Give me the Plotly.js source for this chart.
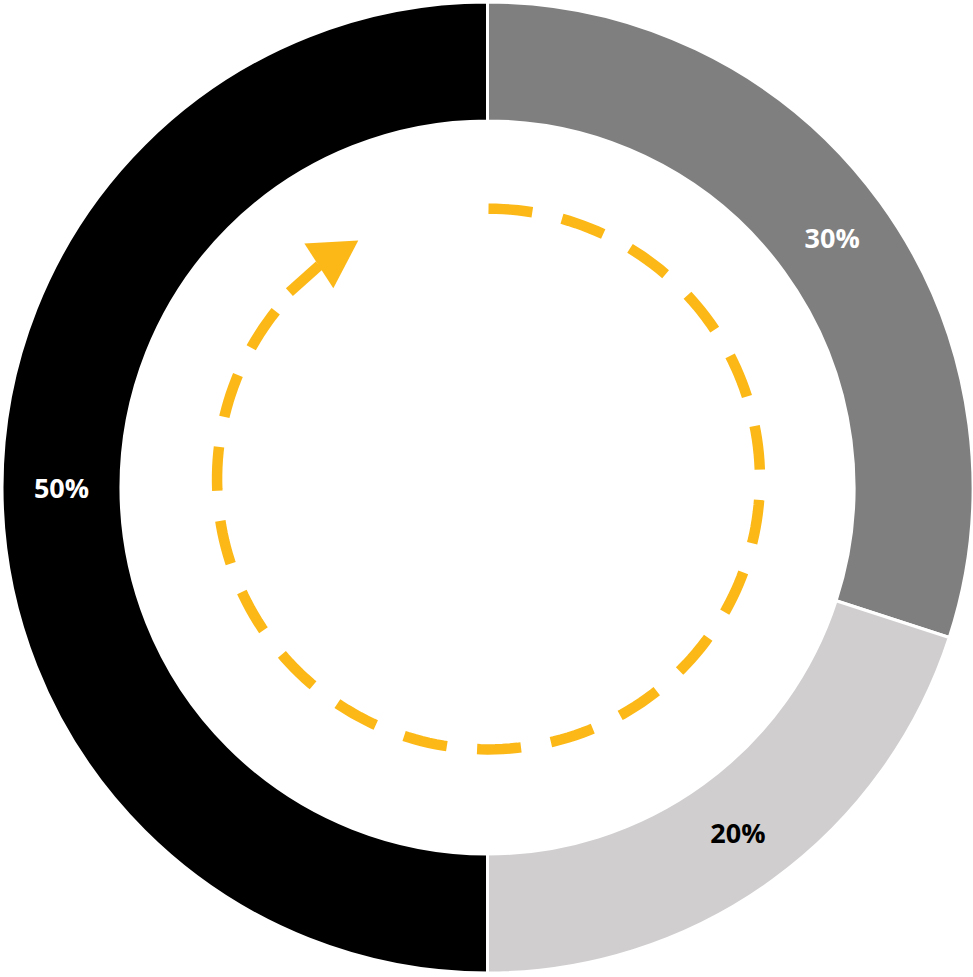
<!DOCTYPE html>
<html>
<head>
<meta charset="utf-8">
<script src="https://cdn.plot.ly/plotly-3.0.1.min.js"></script>
<style>html,body{margin:0;padding:0;background:#fff;}#chart{width:973px;height:977px;}</style>
</head>
<body>
<div id="chart"></div>
<script>
// ---- data ----
const categories = ['Part A', 'Part B', 'Part C'];
const values = [30, 20, 50];
const labelsText = ['30%', '20%', '50%'];
const sliceColors = ['#7F7F7F', '#D0CECE', '#000000'];
const textColors = ['#FFFFFF', '#000000', '#FFFFFF'];

// ---- decoration geometry (pixels) ----
const W = 973, H = 977;
const cx = 487.5, cy = 480, r = 272;
const px = (x) => x / W;
const py = (y) => 1 - y / H;

// dashed arc from top, clockwise, to the start of the arrow shaft
const sweepDeg = 313.3;
let path = '';
const N = 200;
for (let i = 0; i <= N; i++) {
  const a = (sweepDeg * i / N) * Math.PI / 180; // clockwise from top
  const x = cx + r * Math.sin(a);
  const y = cy - r * Math.cos(a);
  path += (i === 0 ? 'M' : 'L') + px(x).toFixed(6) + ',' + py(y).toFixed(6);
}
const gold = '#FBB817';
const headPath = 'M' + px(303) + ',' + py(243) + 'L' + px(357) + ',' + py(240) + 'L' + px(332) + ',' + py(288) + 'Z';

const trace = {
  type: 'pie',
  labels: categories,
  values: values,
  text: labelsText,
  textinfo: 'text',
  textposition: 'inside',
  insidetextorientation: 'horizontal',
  sort: false,
  direction: 'clockwise',
  rotation: 0,
  hole: 0.755,
  marker: { colors: sliceColors, line: { color: '#FFFFFF', width: 3 } },
  textfont: { family: 'Open Sans, Liberation Sans, sans-serif', size: 27, weight: 700, color: textColors },
  showlegend: false,
  hoverinfo: 'none'
};

const layout = {
  width: W, height: H,
  margin: { l: 2, r: 0, t: 2, b: 4, pad: 0 },
  paper_bgcolor: '#FFFFFF',
  plot_bgcolor: '#FFFFFF',
  showlegend: false,
  shapes: [
    { type: 'path', xref: 'paper', yref: 'paper', path: path,
      line: { color: gold, width: 10.5, dash: '44px,30.4px' }, fillcolor: 'rgba(0,0,0,0)', layer: 'above' },
    { type: 'line', xref: 'paper', yref: 'paper', x0: px(288), y0: py(292), x1: px(318), y1: py(265),
      line: { color: gold, width: 10.5 }, layer: 'above' },
    { type: 'path', xref: 'paper', yref: 'paper', path: headPath,
      line: { color: gold, width: 0 }, fillcolor: gold, layer: 'above' }
  ]
};

Plotly.newPlot('chart', [trace], layout, { displayModeBar: false, staticPlot: true });
</script>
</body>
</html>
